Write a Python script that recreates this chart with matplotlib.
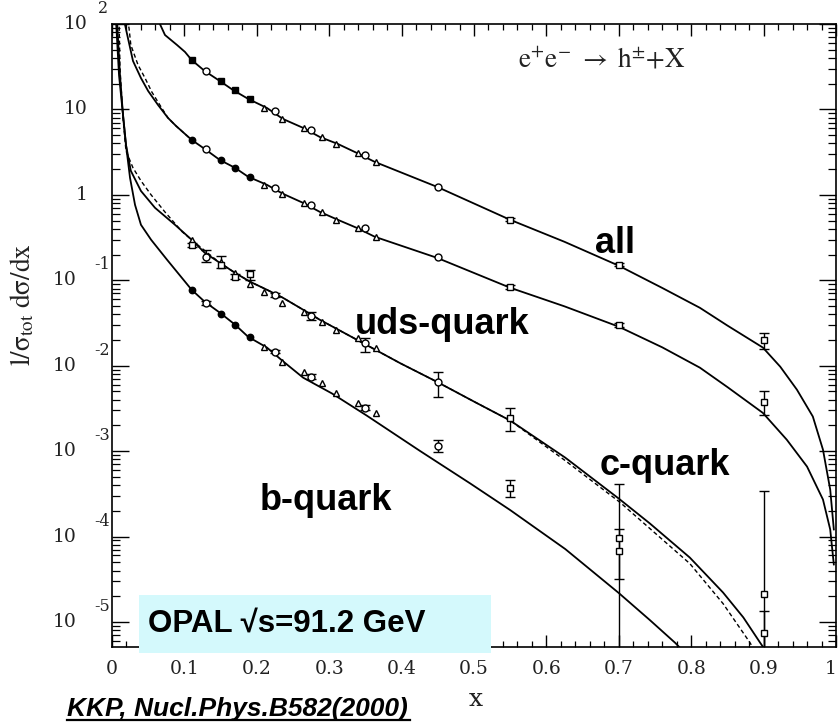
import matplotlib
matplotlib.use("Agg")
import matplotlib.pyplot as plt
from matplotlib.patches import Rectangle
from matplotlib.lines import Line2D
from matplotlib.ticker import FixedLocator, LogLocator, NullFormatter, MultipleLocator
import matplotlib.transforms as mtransforms

plt.rcParams['mathtext.fontset'] = 'stix'

# ---------------- measured points (x grids shared by the data sets) ----------------
x_fill = [0.11, 0.15, 0.17, 0.19]
x_circ = [0.13, 0.225, 0.275, 0.35, 0.45]
x_tri = [0.21, 0.235, 0.265, 0.29, 0.31, 0.34, 0.365]
x_sq = [0.55, 0.70, 0.90]

all_fill = [37.9, 21.5, 16.9, 13.3]
all_circ = [28.2, 9.6, 5.75, 2.94, 1.24]
all_tri = [10.4, 7.74, 6.08, 4.77, 3.95, 3.10, 2.43]
all_sq = [0.51, 0.152, 0.0201]
all_sq_lo = [0.49, 0.145, 0.0158]
all_sq_hi = [0.53, 0.159, 0.0243]

uds_fill = [4.40, 2.57, 2.07, 1.62]
uds_circ = [3.45, 1.21, 0.764, 0.411, 0.188]
uds_tri = [1.31, 1.03, 0.806, 0.632, 0.510, 0.411, 0.323]
uds_sq = [0.0840, 0.0302, 0.00379]
uds_sq_lo = [0.080, 0.0287, 0.00267]
uds_sq_hi = [0.088, 0.0318, 0.00510]

c_low = [0.298, 0.165, 0.122, 0.091]
c_low2 = [0.260, 0.152, 0.110, 0.119]
c_low2_lo = [0.245, 0.140, 0.103, 0.101]
c_low2_hi = [0.276, 0.190, 0.118, 0.133]
c_circ = [0.188, 0.0676, 0.0385, 0.0186, 0.0065]
c_circ_lo = [0.165, 0.0640, 0.0345, 0.0145, 0.00434]
c_circ_hi = [0.227, 0.0715, 0.0430, 0.0212, 0.0085]
c_tri = [0.0733, 0.0546, 0.0428, 0.0327, 0.0264, 0.0212, 0.0162]
c_sq = [0.00247, 9.73e-5, 2.10e-5]
c_sq_lo = [0.00174, 1e-7, 1e-7]
c_sq_hi = [0.00323, 4.17e-4, 3.45e-4]

b_fill = [0.0774, 0.0406, 0.0302, 0.0218]
b_circ = [0.0546, 0.0146, 0.00743, 0.00323, 0.00116]
b_circ_lo = [0.0520, 0.0139, 0.00700, 0.00300, 0.000987]
b_circ_hi = [0.0573, 0.0153, 0.00790, 0.00350, 0.00136]
b_tri = [0.0167, 0.0111, 0.0085, 0.00633, 0.00483, 0.00369, 0.00282]
b_sq = [3.74e-4, 6.86e-5, 7.33e-6]
b_sq_lo = [2.94e-4, 3.14e-5, 1e-7]
b_sq_hi = [4.64e-4, 1.21e-4, 1.33e-5]

# ---------------- KKP fragmentation-function curves ----------------
all_x = [0.0635, 0.0732, 0.0898, 0.1008, 0.110, 0.128, 0.149, 0.167, 0.188, 0.214,
         0.236, 0.264, 0.287, 0.312, 0.338, 0.363, 0.449, 0.550, 0.625, 0.700,
         0.760, 0.812, 0.850, 0.899, 0.923, 0.946, 0.968, 0.982, 0.992, 0.997]
all_y = [112, 74.3, 56.8, 47.1, 37.9, 28.2, 21.5, 16.9, 13.3, 10.4,
         7.74, 6.08, 4.76, 3.94, 3.10, 2.43, 1.24, 0.510, 0.282, 0.148,
         0.0813, 0.0476, 0.0295, 0.0163, 0.00973, 0.00524, 0.00254, 0.00104, 3.55e-4, 1.21e-4]

uds_x = [0.0165, 0.022, 0.029, 0.040, 0.050, 0.0635, 0.0773, 0.0884, 0.110, 0.128,
         0.149, 0.170, 0.188, 0.214, 0.236, 0.264, 0.287, 0.312, 0.338, 0.363,
         0.449, 0.550, 0.625, 0.700, 0.760, 0.812, 0.850, 0.899, 0.932, 0.960,
         0.982, 0.992, 0.997]
uds_y = [112, 68.5, 36.9, 23.3, 16.4, 11.3, 7.96, 6.41, 4.40, 3.45,
         2.56, 2.07, 1.63, 1.31, 1.03, 0.805, 0.632, 0.510, 0.411, 0.323,
         0.183, 0.0817, 0.0495, 0.0286, 0.0164, 0.00948, 0.00562, 0.00280, 0.00136, 6.59e-4,
         2.71e-4, 1.21e-4, 4.71e-5]

uds_alt_x = [0.021, 0.0235, 0.026, 0.036, 0.0456, 0.055, 0.066, 0.0773, 0.0884, 0.110]
uds_alt_y = [112, 89.7, 56.8, 33.1, 23.3, 16.0, 11.3, 7.96, 6.41, 4.40]

c_x = [0.0069, 0.011, 0.0152, 0.0193, 0.026, 0.040, 0.0594, 0.087, 0.110, 0.128,
       0.149, 0.170, 0.191, 0.214, 0.236, 0.264, 0.287, 0.315, 0.352, 0.398,
       0.449, 0.500, 0.550, 0.626, 0.700, 0.743, 0.798, 0.844, 0.872, 0.895,
       0.916]
c_y = [112, 25.4, 8.63, 3.85, 1.91, 1.11, 0.705, 0.446, 0.298, 0.210,
       0.160, 0.122, 0.0959, 0.0774, 0.0624, 0.0452, 0.0345, 0.0257, 0.0174, 0.0107,
       0.00646, 0.00380, 0.00228, 8.39e-4, 2.78e-4, 1.42e-4, 5.68e-5, 2.21e-5, 1.13e-5, 5.75e-6,
       3.16e-6]

c_alt_x = [0.0097, 0.011, 0.0152, 0.0193, 0.029, 0.040, 0.054, 0.073, 0.097, 0.1215,
           0.149, 0.170, 0.191, 0.214, 0.236, 0.264, 0.287, 0.315, 0.352, 0.398,
           0.449, 0.500, 0.550, 0.626, 0.702, 0.798, 0.844, 0.881, 0.895]
c_alt_y = [112, 30.5, 7.96, 3.27, 2.07, 1.46, 1.00, 0.632, 0.369, 0.247,
           0.160, 0.122, 0.0959, 0.0774, 0.0624, 0.0452, 0.0345, 0.0257, 0.0174, 0.0107,
           0.00646, 0.00380, 0.00228, 7.74e-4, 2.50e-4, 4.83e-5, 1.64e-5, 5.75e-6, 3.63e-6]

b_x = [0.0055, 0.0097, 0.0152, 0.0193, 0.0249, 0.0318, 0.040, 0.054, 0.076, 0.110,
       0.128, 0.149, 0.170, 0.188, 0.214, 0.236, 0.264, 0.304, 0.352, 0.425,
       0.495, 0.550, 0.626, 0.700, 0.743, 0.778, 0.798]
b_y = [112, 25.1, 8.63, 3.85, 1.58, 0.764, 0.446, 0.298, 0.174, 0.0774,
       0.0561, 0.0417, 0.0302, 0.0218, 0.0163, 0.0113, 0.00724, 0.00472, 0.00260, 1.01e-3,
       4.17e-4, 2.04e-4, 7.14e-5, 2.18e-5, 1.05e-5, 5.68e-6, 3.80e-6]

x_tick_labels = ['0', '0.1', '0.2', '0.3', '0.4', '0.5', '0.6', '0.7', '0.8', '0.9', '1']
decades = [2, 1, 0, -1, -2, -3, -4, -5]

# ---------------- figure ----------------
W, H = 838, 726
fig = plt.figure(figsize=(W / 100, H / 100), dpi=100)
L, R, T, B = 112, 836, 24, 647
ax = fig.add_axes([L / W, 1 - B / H, (R - L) / W, (B - T) / H])
ax.set_yscale('log')
ax.set_xlim(0, 1)
ax.set_ylim(5.09e-6, 100)

lw = 1.3
ax.plot(all_x, all_y, color='black', lw=lw)
ax.plot(uds_x, uds_y, color='black', lw=lw)
ax.plot(uds_alt_x, uds_alt_y, color='black', lw=1.0, ls=(0, (3, 2)))
ax.plot(c_x, c_y, color='black', lw=lw)
ax.plot(c_alt_x, c_alt_y, color='black', lw=1.0, ls=(0, (3, 2)))
ax.plot(b_x, b_y, color='black', lw=lw)

open_kw = dict(ls='none', mfc='white', mec='black', mew=1.0, ms=5.0, zorder=4)
fill_kw = dict(ls='none', mfc='black', mec='black', mew=1.0, ms=4.6, zorder=4)
err_kw = dict(fmt='none', ecolor='black', elinewidth=1.0, capsize=3.5, capthick=1.0, zorder=3)


def bars(xs, ys, lo, hi):
    ax.errorbar(xs, ys, yerr=[[y - l for y, l in zip(ys, lo)],
                              [h - y for y, h in zip(ys, hi)]], **err_kw)


# all charged hadrons
ax.plot(x_fill, all_fill, marker='s', **fill_kw)
ax.plot(x_circ, all_circ, marker='o', **open_kw)
ax.plot(x_tri, all_tri, marker='^', **open_kw)
bars(x_sq, all_sq, all_sq_lo, all_sq_hi)
ax.plot(x_sq, all_sq, marker='s', **open_kw)

# uds
ax.plot(x_fill, uds_fill, marker='o', **fill_kw)
ax.plot(x_circ, uds_circ, marker='o', **open_kw)
ax.plot(x_tri, uds_tri, marker='^', **open_kw)
bars(x_sq, uds_sq, uds_sq_lo, uds_sq_hi)
ax.plot(x_sq, uds_sq, marker='s', **open_kw)

# c
ax.plot(x_fill, c_low, marker='^', **open_kw)
bars(x_fill, c_low2, c_low2_lo, c_low2_hi)
ax.plot(x_fill, c_low2, marker='s', **open_kw)
bars(x_circ, c_circ, c_circ_lo, c_circ_hi)
ax.plot(x_circ, c_circ, marker='o', **open_kw)
ax.plot(x_tri, c_tri, marker='^', **open_kw)
bars(x_sq, c_sq, c_sq_lo, c_sq_hi)
ax.plot(x_sq, c_sq, marker='s', **open_kw)

# b
ax.plot(x_fill, b_fill, marker='o', **fill_kw)
bars(x_circ, b_circ, b_circ_lo, b_circ_hi)
ax.plot(x_circ, b_circ, marker='o', **open_kw)
ax.plot(x_tri, b_tri, marker='^', **open_kw)
bars(x_sq, b_sq, b_sq_lo, b_sq_hi)
ax.plot(x_sq, b_sq, marker='s', **open_kw)

# ---------------- axes decoration ----------------
for s in ax.spines.values():
    s.set_linewidth(1.2)
ax.xaxis.set_minor_locator(MultipleLocator(0.02))
ax.yaxis.set_major_locator(FixedLocator([10.0 ** d for d in decades]))
ax.yaxis.set_minor_locator(LogLocator(base=10, subs=range(2, 10), numticks=20))
ax.yaxis.set_major_formatter(NullFormatter())
ax.yaxis.set_minor_formatter(NullFormatter())
ax.set_xticks([i / 10 for i in range(11)])
ax.set_xticklabels(x_tick_labels, family='DejaVu Serif', fontsize=13.5, color='#222222')
ax.tick_params(which='both', direction='in', top=True, right=True)
ax.tick_params(axis='x', which='major', length=8.5, width=1.0, pad=9)
ax.tick_params(axis='x', which='minor', length=4.3, width=0.9)
ax.tick_params(axis='y', which='major', length=12, width=1.0)
ax.tick_params(axis='y', which='minor', length=5.5, width=0.9)

# the label at x = 1 sits against the figure edge; nudge it inwards
last = ax.get_xticklabels()[-1]
last.set_transform(last.get_transform()
                   + mtransforms.ScaledTranslation(-4 / 72, 0, fig.dpi_scale_trans))

ytr = ax.get_yaxis_transform()
up = mtransforms.offset_copy(ytr, fig=fig, x=0, y=11, units='points')
tick_font = dict(family='DejaVu Serif', color='#222222')
for d in decades:
    v = 10.0 ** d
    if d == 0:
        ax.text((88 - L) / (R - L), v, '1', transform=ytr, ha='right', va='center',
                fontsize=13.5, **tick_font)
    elif d > 0:
        ax.text((88 - L) / (R - L), v, '10', transform=ytr, ha='right', va='center',
                fontsize=13.5, **tick_font)
        if d == 2:
            ax.text((98 - L) / (R - L), v, '2', transform=up, ha='left', va='center',
                    fontsize=11.5, **tick_font)
    else:
        ax.text((77 - L) / (R - L), v, '10', transform=ytr, ha='right', va='center',
                fontsize=13.5, **tick_font)
        ax.text((110 - L) / (R - L), v, '-%d' % (-d), transform=up, ha='right', va='center',
                fontsize=11.5, **tick_font)

fig.text(476 / W, 1 - 700 / H, 'x', ha='center', va='center', fontsize=18,
         family='DejaVu Serif', color='#222222')
fig.text(22 / W, 1 - 305 / H, r'$\mathrm{l/\sigma_{tot}\ d\sigma/dx}$', rotation=90,
         ha='center', va='center', fontsize=19.5, color='#222222')
fig.text(602 / W, 1 - 68 / H, r'$\mathrm{e^{+}e^{-}\ \rightarrow\ h^{\pm}{+}X}$',
         ha='center', va='baseline', fontsize=19.5, color='#222222')

# ---------------- annotations ----------------
lab = dict(family='Liberation Sans', weight='bold', fontsize=26, color='black',
           va='baseline', ha='left')
fig.text(595 / W, 1 - 253 / H, 'all', **lab)
fig.text(355 / W, 1 - 334 / H, 'uds-quark', **lab)
fig.text(600 / W, 1 - 475 / H, 'c-quark', **lab)
fig.text(260 / W, 1 - 510 / H, 'b-quark', **lab)

fig.add_artist(Rectangle((139 / W, 1 - 653 / H), (491 - 139) / W, (653 - 595) / H,
                         transform=fig.transFigure, facecolor='#d4f9fc',
                         edgecolor='none', zorder=5))
fig.text(148 / W, 1 - 632 / H, 'OPAL \u221as=91.2 GeV', family='Liberation Sans',
         weight='bold', fontsize=22.5, ha='left', va='baseline', zorder=6)

fig.text(67 / W, 1 - 716 / H, 'KKP, Nucl.Phys.B582(2000)', family='Liberation Sans',
         weight='bold', style='italic', fontsize=19, ha='left', va='baseline', zorder=6)
fig.add_artist(Line2D([67 / W, 410 / W], [1 - 720 / H, 1 - 720 / H],
                      transform=fig.transFigure, color='black', lw=1.6, zorder=6))

fig.savefig('out.png', dpi=100)
